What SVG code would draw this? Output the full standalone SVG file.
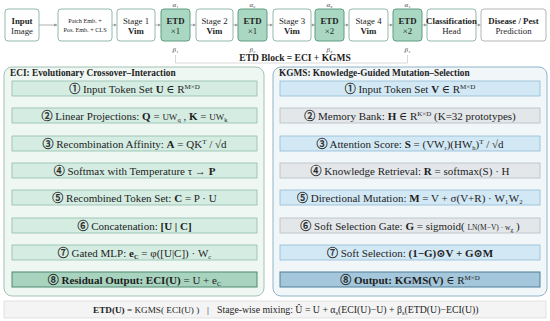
<svg xmlns="http://www.w3.org/2000/svg" width="550" height="321" viewBox="0 0 550 321">
<defs>
<marker id="ah" viewBox="0 0 6 6" refX="5.5" refY="3" markerWidth="4" markerHeight="4" orient="auto"><path d="M0,0 L6,3 L0,6 z" fill="#9a9a9a"/></marker>
<style>
text{font-family:"Liberation Serif","Times New Roman","DejaVu Serif","Noto Sans CJK SC",serif;fill:#1e1e1e}
.b{font-weight:bold}
.i{font-style:italic}
.m{text-anchor:middle}
.box{fill:#fff;stroke:#92b8aa;stroke-width:1}
.etd{fill:#a9d7c2;stroke:#5f9c82;stroke-width:1}
.arr{stroke:#9a9a9a;stroke-width:0.8;fill:none;marker-end:url(#ah)}
.pE{fill:#eff7f3;stroke:#a3c2b5;stroke-width:1}
.pK{fill:#f1f6f9;stroke:#8fb4c8;stroke-width:1}
.rE{fill:#d4ece1;stroke:#8fbdaa;stroke-width:0.8}
.rE8{fill:#a8d3bf;stroke:#4e8a70;stroke-width:1}
.rB{fill:#d2e8f4;stroke:#8fbcd5;stroke-width:0.8}
.rG{fill:#e3e7ea;stroke:#b3bec4;stroke-width:0.8}
.rK8{fill:#a4c7db;stroke:#4f7e98;stroke-width:1}
.lk{stroke:#c8c8c8;stroke-width:0.8}
.tb{font-size:8.8px}
.rt{font-size:11px}
.sp{font-size:7px}
.sb{font-size:6.5px}
.cn{stroke:#1e1e1e;stroke-width:0.3}
.ab{font-size:7px;font-style:italic;fill:#444}
</style>
</defs>

<g id="connectors">
<line class="arr" x1="39" y1="25" x2="57" y2="25"/>
<line class="arr" x1="112" y1="25" x2="116.5" y2="25"/>
<line class="arr" x1="155" y1="25" x2="160.5" y2="25"/>
<line class="arr" x1="190" y1="25" x2="195.5" y2="25"/>
<line class="arr" x1="233" y1="25" x2="237.5" y2="25"/>
<line class="arr" x1="267" y1="25" x2="272.5" y2="25"/>
<line class="arr" x1="311" y1="25" x2="314.5" y2="25"/>
<line class="arr" x1="344" y1="25" x2="348.5" y2="25"/>
<line class="arr" x1="388" y1="25" x2="392.5" y2="25"/>
<line class="arr" x1="422" y1="25" x2="426.5" y2="25"/>
<line class="arr" x1="476" y1="25" x2="480.5" y2="25"/>
<path d="M175.5,55 V63 H407.5 V55" fill="none" stroke="#cfcfcf" stroke-width="0.8"/>
<line class="lk" x1="134.5" y1="96" x2="134.5" y2="108"/>
<line class="lk" x1="134.5" y1="123" x2="134.5" y2="136"/>
<line class="lk" x1="134.5" y1="151" x2="134.5" y2="163"/>
<line class="lk" x1="134.5" y1="178" x2="134.5" y2="190"/>
<line class="lk" x1="134.5" y1="205" x2="134.5" y2="218"/>
<line class="lk" x1="134.5" y1="233" x2="134.5" y2="245"/>
<line class="lk" x1="134.5" y1="260" x2="134.5" y2="272"/>
<line class="lk" x1="410" y1="96" x2="410" y2="108"/>
<line class="lk" x1="410" y1="123" x2="410" y2="136"/>
<line class="lk" x1="410" y1="151" x2="410" y2="163"/>
<line class="lk" x1="410" y1="178" x2="410" y2="190"/>
<line class="lk" x1="410" y1="205" x2="410" y2="218"/>
<line class="lk" x1="410" y1="233" x2="410" y2="245"/>
<line class="lk" x1="410" y1="260" x2="410" y2="272"/>
</g>

<g id="input"><rect class="box" x="5" y="9" width="34" height="32" rx="3"/>
<text class="tb m b" x="22" y="24">Input</text><text class="tb m" x="22" y="34">Image</text></g>
<g id="patch"><rect class="box" x="58" y="9" width="54" height="32" rx="3"/>
<text class="m" style="font-size:6.2px" x="85" y="23">Patch Emb. +</text><text class="m" style="font-size:6.2px" x="85" y="32">Pos. Emb. + CLS</text></g>
<g id="stage1"><rect class="box" x="117" y="9" width="38" height="32" rx="3"/>
<text class="tb m" x="136" y="24">Stage 1</text><text class="tb m b" x="136" y="34">Vim</text></g>
<g id="etd1"><rect class="etd" x="161" y="9" width="29" height="32" rx="3"/>
<text class="tb m b" x="175.5" y="24">ETD</text><text class="tb m" x="175.5" y="34">×1</text>
<text class="ab m" x="175.5" y="7">α₁</text><text class="ab m" x="175.5" y="52">β₁</text></g>
<g id="stage2"><rect class="box" x="196" y="9" width="37" height="32" rx="3"/>
<text class="tb m" x="214.5" y="24">Stage 2</text><text class="tb m b" x="214.5" y="34">Vim</text></g>
<g id="etd2"><rect class="etd" x="238" y="9" width="29" height="32" rx="3"/>
<text class="tb m b" x="252.5" y="24">ETD</text><text class="tb m" x="252.5" y="34">×1</text>
<text class="ab m" x="252.5" y="7">α₂</text><text class="ab m" x="252.5" y="52">β₂</text></g>
<g id="stage3"><rect class="box" x="273" y="9" width="38" height="32" rx="3"/>
<text class="tb m" x="292" y="24">Stage 3</text><text class="tb m b" x="292" y="34">Vim</text></g>
<g id="etd3"><rect class="etd" x="315" y="9" width="29" height="32" rx="3"/>
<text class="tb m b" x="329.5" y="24">ETD</text><text class="tb m" x="329.5" y="34">×2</text>
<text class="ab m" x="329.5" y="7">α₃</text><text class="ab m" x="329.5" y="52">β₃</text></g>
<g id="stage4"><rect class="box" x="349" y="9" width="39" height="32" rx="3"/>
<text class="tb m" x="368.5" y="24">Stage 4</text><text class="tb m b" x="368.5" y="34">Vim</text></g>
<g id="etd4"><rect class="etd" x="393" y="9" width="29" height="32" rx="3"/>
<text class="tb m b" x="407.5" y="24">ETD</text><text class="tb m" x="407.5" y="34">×2</text>
<text class="ab m" x="407.5" y="7">α₄</text><text class="ab m" x="407.5" y="52">β₄</text></g>
<g id="head"><rect class="box" x="427" y="9" width="49" height="32" rx="3"/>
<text class="tb m b" x="451.5" y="24">Classification</text><text class="tb m" x="451.5" y="34">Head</text></g>
<g id="pred"><rect class="box" x="481" y="9" width="65" height="32" rx="3" style="stroke:#b5b5b5"/>
<text class="tb m b" x="513.5" y="24">Disease / Pest</text><text class="tb m" x="513.5" y="34">Prediction</text></g>

<g id="etd-block-label"><text class="m b" style="font-size:9.5px" x="295" y="61">ETD Block = ECI + KGMS</text></g>

<g id="eci">
<rect class="pE" x="4" y="67" width="260" height="229" rx="8"/>
<text class="b" style="font-size:9.3px" x="10" y="76">ECI: Evolutionary Crossover–Interaction</text>
<rect class="rE" x="12" y="81" width="245" height="15"/>
<text class="rt m" x="134.5" y="92.5"><tspan class="cn">①</tspan> Input Token Set <tspan class="b">U</tspan> ∈ R<tspan dy="-4" class="sp">M×D</tspan></text>
<rect class="rE" x="12" y="108" width="245" height="15"/>
<text class="rt m" x="134.5" y="119.5"><tspan class="cn">②</tspan> Linear Projections: <tspan class="b">Q</tspan> = <tspan style="font-size:9px">UW</tspan><tspan dy="2" class="sb">q</tspan><tspan dy="-2"> , </tspan><tspan class="b">K</tspan> = <tspan style="font-size:9px">UW</tspan><tspan dy="2" class="sb">k</tspan></text>
<rect class="rE" x="12" y="136" width="245" height="15"/>
<text class="rt m" x="134.5" y="147.5"><tspan class="cn">③</tspan> Recombination Affinity: <tspan class="b">A</tspan> = QK<tspan dy="-4" class="sp">T</tspan><tspan dy="4"> / √d</tspan></text>
<rect class="rE" x="12" y="163" width="245" height="15"/>
<text class="rt m" x="134.5" y="174.5"><tspan class="cn">④</tspan> Softmax with Temperature τ → <tspan class="b">P</tspan></text>
<rect class="rE" x="12" y="190" width="245" height="15"/>
<text class="rt m" x="134.5" y="201.5"><tspan class="cn">⑤</tspan> Recombined Token Set: <tspan class="b">C</tspan> = P · U</text>
<rect class="rE" x="12" y="218" width="245" height="15"/>
<text class="rt m" x="134.5" y="229.5"><tspan class="cn">⑥</tspan> Concatenation: <tspan class="b">[U | C]</tspan></text>
<rect class="rE" x="12" y="245" width="245" height="15"/>
<text class="rt m" x="134.5" y="256.5"><tspan class="cn">⑦</tspan> Gated MLP: <tspan class="b">e</tspan><tspan dy="2" class="b sb">C</tspan><tspan dy="-2"> = φ([U|C]) · W</tspan><tspan dy="2" class="sb">c</tspan></text>
<rect class="rE8" x="12" y="272" width="245" height="15"/>
<text class="rt m" x="134.5" y="283.5"><tspan class="cn">⑧</tspan> <tspan class="b">Residual Output: ECI(U)</tspan> = U + e<tspan dy="2" class="sb">C</tspan></text>
</g>

<g id="kgms">
<rect class="pK" x="273" y="67" width="274" height="229" rx="8"/>
<text class="b" style="font-size:9.3px" x="279" y="76">KGMS: Knowledge-Guided Mutation–Selection</text>
<rect class="rB" x="280" y="81" width="260" height="15"/>
<text class="rt m" x="410" y="92.5"><tspan class="cn">①</tspan> Input Token Set <tspan class="b">V</tspan> ∈ R<tspan dy="-4" class="sp">M×D</tspan></text>
<rect class="rG" x="280" y="108" width="260" height="15"/>
<text class="rt m" x="410" y="119.5"><tspan class="cn">②</tspan> Memory Bank: <tspan class="b">H</tspan> ∈ R<tspan dy="-4" class="sp">K×D</tspan><tspan dy="4"> (K=32 prototypes)</tspan></text>
<rect class="rB" x="280" y="136" width="260" height="15"/>
<text class="rt m" x="410" y="147.5"><tspan class="cn">③</tspan> Attention Score: <tspan class="b">S</tspan> = (VW<tspan dy="2" class="sb">r</tspan><tspan dy="-2">)(HW</tspan><tspan dy="2" class="sb">h</tspan><tspan dy="-2">)</tspan><tspan dy="-4" class="sp">T</tspan><tspan dy="4"> / √d</tspan></text>
<rect class="rG" x="280" y="163" width="260" height="15"/>
<text class="rt m" x="410" y="174.5"><tspan class="cn">④</tspan> Knowledge Retrieval: <tspan class="b">R</tspan> = softmax(S) · H</text>
<rect class="rB" x="280" y="190" width="260" height="15"/>
<text class="rt m" x="410" y="201.5"><tspan class="cn">⑤</tspan> Directional Mutation: <tspan class="b">M</tspan> = V + σ(V+R) · W₁W₂</text>
<rect class="rG" x="280" y="218" width="260" height="15"/>
<text class="rt m" x="410" y="229.5"><tspan class="cn">⑥</tspan> Soft Selection Gate: <tspan class="b">G</tspan> = sigmoid( <tspan style="font-size:7.5px">LN(M−V) · w</tspan><tspan dy="2" style="font-size:5.5px">g</tspan><tspan dy="-2"> )</tspan></text>
<rect class="rB" x="280" y="245" width="260" height="15"/>
<text class="rt m" x="410" y="256.5"><tspan class="cn">⑦</tspan> Soft Selection: <tspan class="b">(1−G)⊙V + G⊙M</tspan></text>
<rect class="rK8" x="280" y="272" width="260" height="15"/>
<text class="rt m" x="410" y="283.5"><tspan class="cn">⑧</tspan> <tspan class="b">Output: KGMS(V)</tspan> ∈ R<tspan dy="-4" class="sp">M×D</tspan></text>
</g>

<g id="formula">
<rect x="4" y="301" width="542" height="17" fill="#f4f4f4" stroke="#dcdcdc" stroke-width="0.8"/>
<text style="font-size:9.2px" x="93" y="312.5"><tspan class="b">ETD(U)</tspan> = KGMS( ECI(U) )</text>
<text style="font-size:9.2px" x="207" y="312.5">|</text>
<text style="font-size:9.8px" x="217" y="312.5">Stage-wise mixing: Û = U + α<tspan dy="2" style="font-size:6.5px">s</tspan><tspan dy="-2">(ECI(U)−U) + β</tspan><tspan dy="2" style="font-size:6.5px">s</tspan><tspan dy="-2">(ETD(U)−ECI(U))</tspan></text>
</g>
</svg>
